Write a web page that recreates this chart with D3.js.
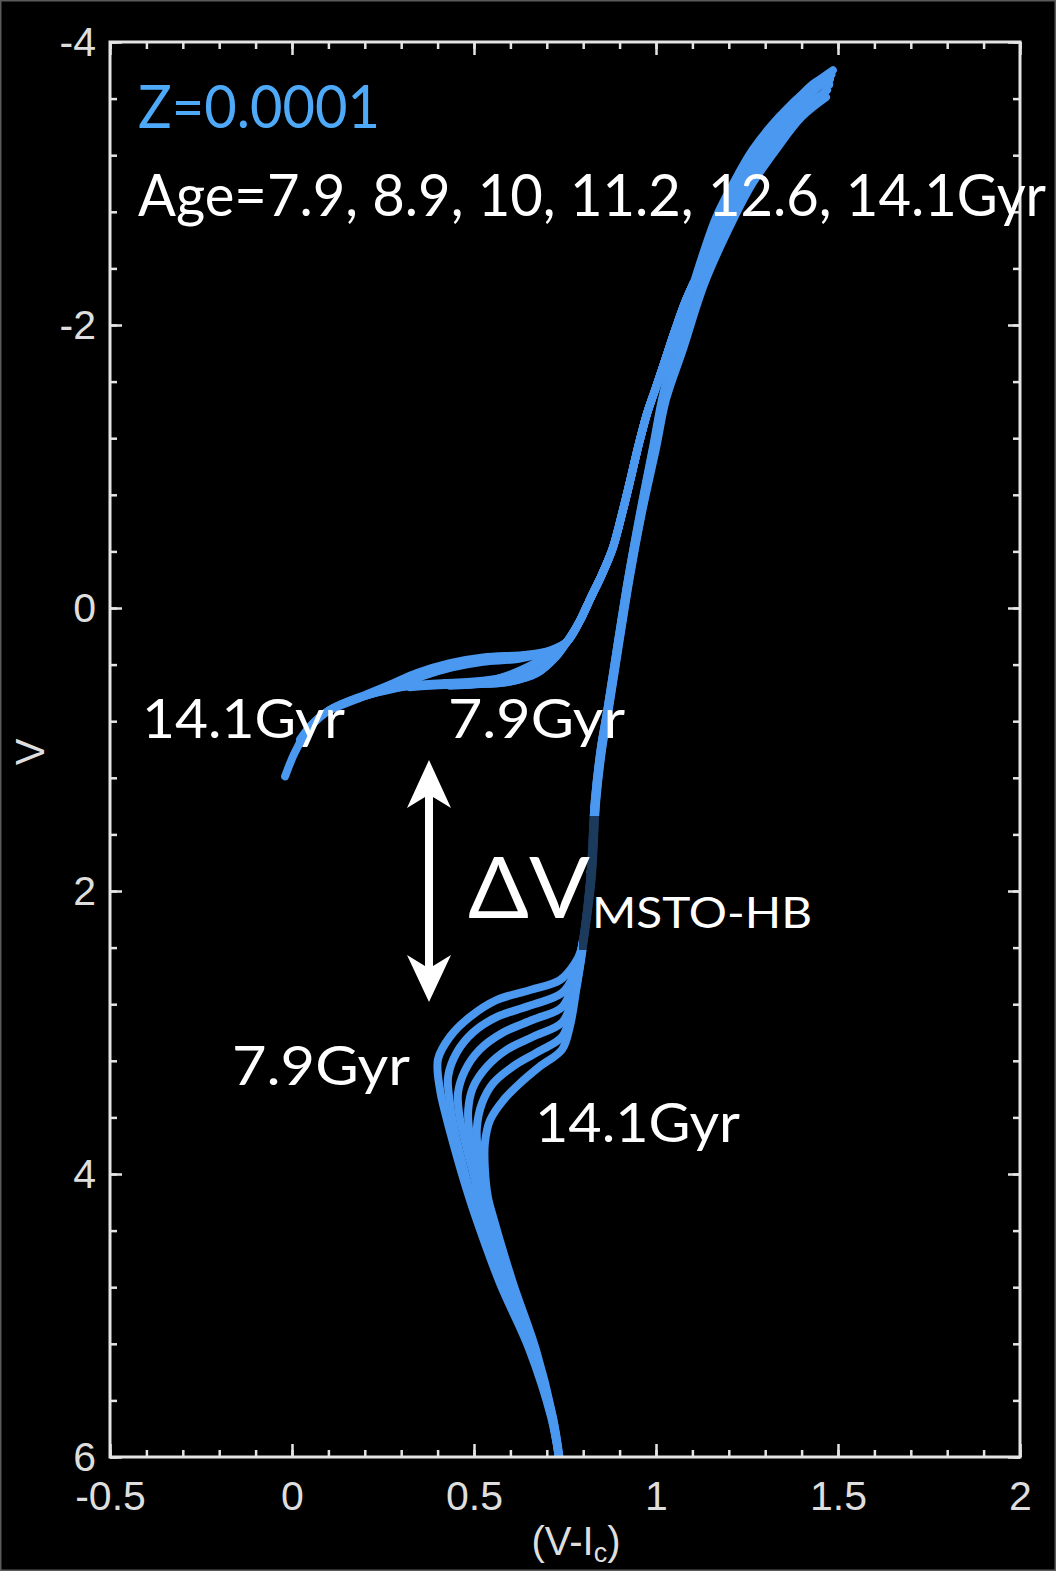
<!DOCTYPE html>
<html><head><meta charset="utf-8">
<script src="https://cdn.jsdelivr.net/npm/d3@7"></script>
<style>html,body{margin:0;padding:0;background:#000;} svg{display:block}</style>
</head><body>
<svg id="chart" width="1056" height="1571"></svg>
<script>
// ---------- DATA ----------
const ages = ["7.9", "8.9", "10", "11.2", "12.6", "14.1"];
const xTicks = [-0.5, 0, 0.5, 1, 1.5, 2];
const xTickLabels = ["-0.5", "0", "0.5", "1", "1.5", "2"];
const yTicks = [-4, -2, 0, 2, 4, 6];
const yTickLabels = ["-4", "-2", "0", "2", "4", "6"];

// isochrones: main sequence -> turnoff -> subgiant -> red giant branch  [V-Ic, V]
const iso79 = [[0.733,6.00],[0.712,5.72],[0.652,5.24],[0.571,4.77],[0.504,4.30],[0.474,4.06],[0.448,3.83],[0.424,3.60],[0.407,3.41],[0.401,3.19],[0.434,3.03],[0.489,2.89],[0.563,2.77],[0.654,2.70],[0.736,2.63],[0.775,2.52],[0.794,2.42],[0.819,1.92],[0.832,1.36],[0.849,0.98],[0.865,0.74],[0.893,0.28],[0.923,-0.20],[0.956,-0.67],[0.992,-1.14],[1.016,-1.47],[1.049,-1.82],[1.104,-2.30],[1.165,-2.76],[1.212,-3.00],[1.266,-3.24],[1.338,-3.47],[1.423,-3.68],[1.486,-3.80]];
const iso89 = [[0.733,6.00],[0.713,5.72],[0.655,5.24],[0.578,4.77],[0.514,4.30],[0.488,4.11],[0.466,3.90],[0.446,3.69],[0.434,3.50],[0.429,3.31],[0.453,3.14],[0.497,3.00],[0.563,2.89],[0.654,2.81],[0.742,2.72],[0.775,2.59],[0.794,2.42],[0.819,1.92],[0.832,1.36],[0.849,0.98],[0.865,0.74],[0.893,0.28],[0.923,-0.20],[0.957,-0.67],[0.993,-1.14],[1.018,-1.47],[1.054,-1.82],[1.110,-2.30],[1.175,-2.76],[1.223,-3.00],[1.279,-3.24],[1.350,-3.47],[1.430,-3.70],[1.482,-3.77]];
const iso10 = [[0.733,6.00],[0.714,5.72],[0.658,5.24],[0.585,4.77],[0.523,4.30],[0.504,4.06],[0.481,3.83],[0.462,3.62],[0.456,3.43],[0.475,3.27],[0.516,3.12],[0.580,3.00],[0.662,2.91],[0.742,2.82],[0.772,2.66],[0.795,2.42],[0.820,1.92],[0.833,1.36],[0.850,0.98],[0.866,0.74],[0.894,0.28],[0.924,-0.20],[0.958,-0.67],[0.995,-1.14],[1.020,-1.47],[1.059,-1.82],[1.116,-2.30],[1.185,-2.76],[1.233,-3.00],[1.292,-3.24],[1.362,-3.47],[1.440,-3.70],[1.478,-3.74]];
const iso112 = [[0.734,6.00],[0.715,5.72],[0.662,5.24],[0.592,4.77],[0.533,4.30],[0.521,4.16],[0.506,3.95],[0.489,3.74],[0.484,3.55],[0.497,3.39],[0.536,3.24],[0.591,3.12],[0.662,3.03],[0.742,2.93],[0.769,2.77],[0.789,2.55],[0.796,2.42],[0.821,1.92],[0.834,1.36],[0.851,0.98],[0.867,0.74],[0.895,0.28],[0.925,-0.20],[0.959,-0.67],[0.997,-1.14],[1.022,-1.47],[1.063,-1.82],[1.122,-2.30],[1.195,-2.76],[1.244,-3.00],[1.305,-3.24],[1.375,-3.47],[1.450,-3.69],[1.476,-3.70]];
const iso126 = [[0.734,6.00],[0.716,5.72],[0.666,5.24],[0.600,4.77],[0.543,4.30],[0.526,4.06],[0.511,3.85],[0.508,3.67],[0.522,3.50],[0.552,3.36],[0.607,3.24],[0.673,3.14],[0.742,3.03],[0.766,2.86],[0.785,2.62],[0.797,2.42],[0.822,1.92],[0.835,1.36],[0.852,0.98],[0.868,0.74],[0.896,0.28],[0.926,-0.20],[0.960,-0.67],[0.999,-1.14],[1.025,-1.47],[1.068,-1.82],[1.128,-2.30],[1.205,-2.76],[1.254,-3.00],[1.317,-3.24],[1.387,-3.47],[1.470,-3.66]];
const iso141 = [[0.735,6.00],[0.717,5.72],[0.670,5.24],[0.607,4.77],[0.552,4.30],[0.538,4.16],[0.530,3.97],[0.530,3.78],[0.544,3.62],[0.580,3.48],[0.626,3.36],[0.681,3.24],[0.742,3.12],[0.764,2.95],[0.782,2.68],[0.798,2.42],[0.823,1.92],[0.836,1.36],[0.853,0.98],[0.869,0.74],[0.897,0.28],[0.927,-0.20],[0.961,-0.67],[1.001,-1.14],[1.027,-1.47],[1.073,-1.82],[1.134,-2.30],[1.215,-2.76],[1.265,-3.00],[1.330,-3.24],[1.400,-3.47],[1.467,-3.61]];

// horizontal branch for each age, then the shared asymptotic giant branch
const hb79 = [[0.434,0.55],[0.520,0.53],[0.600,0.47],[0.660,0.40],[0.720,0.31]];
const hb89 = [[0.324,0.56],[0.420,0.545],[0.489,0.54],[0.599,0.52],[0.673,0.46],[0.723,0.35]];
const hb10 = [[0.214,0.61],[0.324,0.55],[0.420,0.53],[0.500,0.52],[0.580,0.49],[0.650,0.43],[0.709,0.33]];
const hb112 = [[0.104,0.72],[0.214,0.61],[0.290,0.55],[0.360,0.48],[0.440,0.42],[0.525,0.38],[0.620,0.36],[0.700,0.31]];
const hb126 = [[0.022,0.93],[0.049,0.84],[0.104,0.72],[0.214,0.60],[0.280,0.53],[0.343,0.46],[0.434,0.39],[0.525,0.35],[0.646,0.33],[0.709,0.30]];
const hb141 = [[-0.019,1.19],[0.008,1.02],[0.049,0.84],[0.104,0.72],[0.214,0.61],[0.324,0.55],[0.489,0.54],[0.599,0.52],[0.673,0.46],[0.723,0.35]];
const agb = [[0.755,0.24],[0.789,0.10],[0.822,-0.08],[0.852,-0.24],[0.882,-0.43],[0.907,-0.67],[0.929,-0.90],[0.951,-1.14],[0.976,-1.38],[1.000,-1.56],[1.026,-1.76],[1.052,-1.96],[1.080,-2.16],[1.104,-2.30]];

const isochrones = [iso79, iso89, iso10, iso112, iso126, iso141];
const hbTracks = [hb79, hb89, hb10, hb112, hb126, hb141];

// ---------- DRAWING ----------
const W = 1056, H = 1571;
const svg = d3.select('#chart');
svg.append('rect').attr('width', W).attr('height', H).attr('fill', '#000');
svg.append('rect').attr('x', 0.75).attr('y', 0.75).attr('width', W - 1.5).attr('height', H - 1.5)
  .attr('fill', 'none').attr('stroke', '#5a5a5a').attr('stroke-width', 1.5);

const x = d3.scaleLinear().domain([-0.5, 2]).range([110, 1020]);
const y = d3.scaleLinear().domain([-4, 6]).range([42, 1457]);

const lineColor = '#4a98ef';
const axisColor = '#e4e4e4';
const tickFont = 'Liberation Sans, Arial, Helvetica, sans-serif';
const annFont = 'Lato, "Open Sans", sans-serif';

svg.append('defs').append('clipPath').attr('id', 'clip')
  .append('rect').attr('x', 110).attr('y', 42).attr('width', 910).attr('height', 1415);

const line = d3.line().x(d => x(d[0])).y(d => y(d[1])).curve(d3.curveCatmullRom.alpha(0.5));

const gCurves = svg.append('g').attr('clip-path', 'url(#clip)');
isochrones.forEach((iso) => {
  gCurves.append('path').datum(iso).attr('d', line)
    .attr('fill', 'none').attr('stroke', lineColor).attr('stroke-width', 8)
    .attr('stroke-linejoin', 'round').attr('stroke-linecap', 'round');
});
hbTracks.forEach((hb) => {
  gCurves.append('path').datum(hb.concat(agb)).attr('d', line)
    .attr('fill', 'none').attr('stroke', lineColor).attr('stroke-width', 8)
    .attr('stroke-linejoin', 'round').attr('stroke-linecap', 'round');
});

// darkened box artifacts over the RGB line (behind the ΔV label)
svg.append('rect').attr('x', 587).attr('y', 816).attr('width', 13).attr('height', 57).attr('fill', '#000').attr('opacity', 0.62);
svg.append('rect').attr('x', 579).attr('y', 873).attr('width', 21).attr('height', 77).attr('fill', '#000').attr('opacity', 0.62);

// axes
function styleAxis(g) {
  g.select('.domain').remove();
  g.selectAll('line').attr('stroke', axisColor).attr('stroke-width', 2.5);
  g.selectAll('text').attr('fill', '#dedede').attr('font-family', tickFont).attr('font-size', 41);
}
const xMinor = d3.range(-0.5, 2.0001, 0.1).map(v => +v.toFixed(2));
const yMinor = d3.range(-4, 6.0001, 0.4).map(v => +v.toFixed(2));

svg.append('g').attr('transform', 'translate(0,1457)')
  .call(d3.axisBottom(x).tickValues(xMinor).tickSize(-7).tickFormat('')).call(styleAxis);
svg.append('g').attr('transform', 'translate(0,1457)')
  .call(d3.axisBottom(x).tickValues(xTicks).tickSize(-13).tickPadding(24).tickFormat((d, i) => xTickLabels[i])).call(styleAxis);
svg.append('g').attr('transform', 'translate(0,42)')
  .call(d3.axisTop(x).tickValues(xMinor).tickSize(-7).tickFormat('')).call(styleAxis);
svg.append('g').attr('transform', 'translate(0,42)')
  .call(d3.axisTop(x).tickValues(xTicks).tickSize(-13).tickFormat('')).call(styleAxis);

svg.append('g').attr('transform', 'translate(110,0)')
  .call(d3.axisLeft(y).tickValues(yMinor).tickSize(-7).tickFormat('')).call(styleAxis);
svg.append('g').attr('transform', 'translate(110,0)')
  .call(d3.axisLeft(y).tickValues(yTicks).tickSize(-12).tickPadding(14).tickFormat((d, i) => yTickLabels[i])).call(styleAxis);
svg.append('g').attr('transform', 'translate(1020,0)')
  .call(d3.axisRight(y).tickValues(yMinor).tickSize(-7).tickFormat('')).call(styleAxis);
svg.append('g').attr('transform', 'translate(1020,0)')
  .call(d3.axisRight(y).tickValues(yTicks).tickSize(-12).tickFormat('')).call(styleAxis);

// frame
svg.append('rect').attr('x', 110).attr('y', 42).attr('width', 910).attr('height', 1415)
  .attr('fill', 'none').attr('stroke', axisColor).attr('stroke-width', 3);

// axis titles
const xt = svg.append('text').attr('x', 576).attr('y', 1555).attr('text-anchor', 'middle')
  .attr('fill', '#dedede').attr('font-family', tickFont).attr('font-size', 40);
xt.append('tspan').text('(V-I');
xt.append('tspan').attr('font-size', 27).attr('dy', 7).text('c');
xt.append('tspan').attr('dy', -7).text(')');
svg.append('text').attr('transform', 'translate(44,752) rotate(-90)').attr('text-anchor', 'middle')
  .attr('fill', '#dedede').attr('font-family', tickFont).attr('font-size', 40).text('V');

// annotations
function ann(txt, px, py, size, len, color) {
  return svg.append('text').attr('x', px).attr('y', py).attr('font-family', annFont)
    .attr('font-size', size).attr('fill', color || '#ffffff')
    .attr('textLength', len).attr('lengthAdjust', 'spacingAndGlyphs').text(txt);
}
ann('Z=0.0001', 138, 128, 60, 242, '#4eaaf8');
ann('Age=' + ages.join(', ') + 'Gyr', 138, 216, 58, 908);
ann(ages[5] + 'Gyr', 142, 738, 54, 203);
ann(ages[0] + 'Gyr', 448, 738, 54, 177);
ann(ages[0] + 'Gyr', 232, 1085, 54, 178);
ann(ages[5] + 'Gyr', 535, 1142, 54, 205);
ann('ΔV', 468, 918, 86, 122);
ann('MSTO-HB', 592, 928, 42, 220);

// double-headed arrow
const arrowPts = [[429,760],[451,808],[433,797],[433,966],[451,955],[429,1002],[407,955],[425,966],[425,797],[407,808]];
svg.append('path').attr('d', 'M' + arrowPts.map(p => p.join(',')).join('L') + 'Z').attr('fill', '#ffffff');
</script>
</body></html>
